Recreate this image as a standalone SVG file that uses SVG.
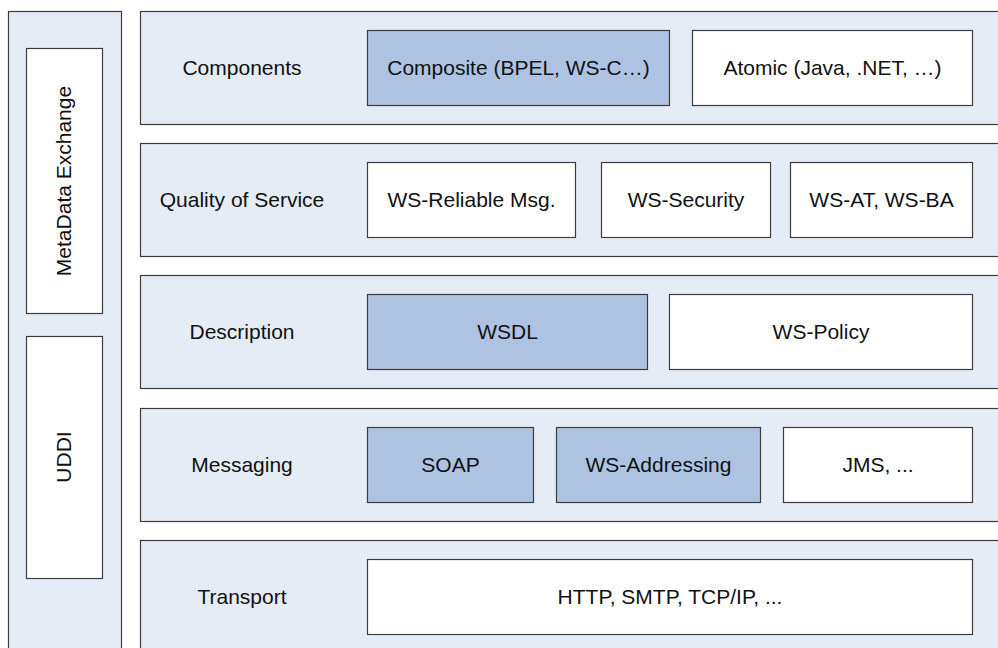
<svg xmlns="http://www.w3.org/2000/svg" width="998" height="648" viewBox="0 0 998 648">
  <style>
    .panel { fill: #e6ecf6; stroke: #3c3c3c; stroke-width: 1.2; }
    .box { fill: #ffffff; stroke: #3c3c3c; stroke-width: 1.2; }
    .hl { fill: #aec3e2; stroke: #3c3c3c; stroke-width: 1.2; }
    text { font-family: "Liberation Sans", Arial, sans-serif; font-size: 21px; fill: #111111; text-anchor: middle; }
  </style>
  <rect x="0" y="0" width="998" height="648" fill="#ffffff"/>

  <!-- cross-cutting column -->
  <g id="crosscut">
    <rect class="panel" x="8.5" y="11.5" width="113" height="660"/>
  </g>
  <g id="metadata-exchange">
    <rect class="box" x="26.5" y="48.5" width="76" height="265"/>
    <text transform="translate(71 181) rotate(-90)">MetaData Exchange</text>
  </g>
  <g id="uddi">
    <rect class="box" x="26.5" y="336.5" width="76" height="242"/>
    <text transform="translate(71 457) rotate(-90)">UDDI</text>
  </g>

  <!-- Components layer -->
  <g id="layer-components">
    <rect class="panel" x="140.5" y="11.5" width="880" height="113"/>
    <text x="242" y="75">Components</text>
  </g>
  <g id="composite">
    <rect class="hl" x="367.5" y="30.5" width="302" height="75"/>
    <text x="518.5" y="75">Composite (BPEL, WS-C…)</text>
  </g>
  <g id="atomic">
    <rect class="box" x="692.5" y="30.5" width="280" height="75"/>
    <text x="832.5" y="75">Atomic (Java, .NET, …)</text>
  </g>

  <!-- Quality of Service layer -->
  <g id="layer-qos">
    <rect class="panel" x="140.5" y="143.5" width="880" height="113"/>
    <text x="242" y="207">Quality of Service</text>
  </g>
  <g id="ws-rm">
    <rect class="box" x="367.5" y="162.5" width="208" height="75"/>
    <text x="471.5" y="207">WS-Reliable Msg.</text>
  </g>
  <g id="ws-security">
    <rect class="box" x="601.5" y="162.5" width="169" height="75"/>
    <text x="686" y="207">WS-Security</text>
  </g>
  <g id="ws-at-ba">
    <rect class="box" x="790.5" y="162.5" width="182" height="75"/>
    <text x="881.5" y="207">WS-AT, WS-BA</text>
  </g>

  <!-- Description layer -->
  <g id="layer-description">
    <rect class="panel" x="140.5" y="275.5" width="880" height="113"/>
    <text x="242" y="339">Description</text>
  </g>
  <g id="wsdl">
    <rect class="hl" x="367.5" y="294.5" width="280" height="75"/>
    <text x="507.5" y="339">WSDL</text>
  </g>
  <g id="ws-policy">
    <rect class="box" x="669.5" y="294.5" width="303" height="75"/>
    <text x="821" y="339">WS-Policy</text>
  </g>

  <!-- Messaging layer -->
  <g id="layer-messaging">
    <rect class="panel" x="140.5" y="408.5" width="880" height="113"/>
    <text x="242" y="472">Messaging</text>
  </g>
  <g id="soap">
    <rect class="hl" x="367.5" y="427.5" width="166" height="75"/>
    <text x="450.5" y="472">SOAP</text>
  </g>
  <g id="ws-addressing">
    <rect class="hl" x="556.5" y="427.5" width="204" height="75"/>
    <text x="658.5" y="472">WS-Addressing</text>
  </g>
  <g id="jms">
    <rect class="box" x="783.5" y="427.5" width="189" height="75"/>
    <text x="878" y="472">JMS, ...</text>
  </g>

  <!-- Transport layer -->
  <g id="layer-transport">
    <rect class="panel" x="140.5" y="540.5" width="880" height="120"/>
    <text x="242" y="604">Transport</text>
  </g>
  <g id="transport-protocols">
    <rect class="box" x="367.5" y="559.5" width="605" height="75"/>
    <text x="670" y="604">HTTP, SMTP, TCP/IP, ...</text>
  </g>

  <g id="connectors"/>
</svg>
